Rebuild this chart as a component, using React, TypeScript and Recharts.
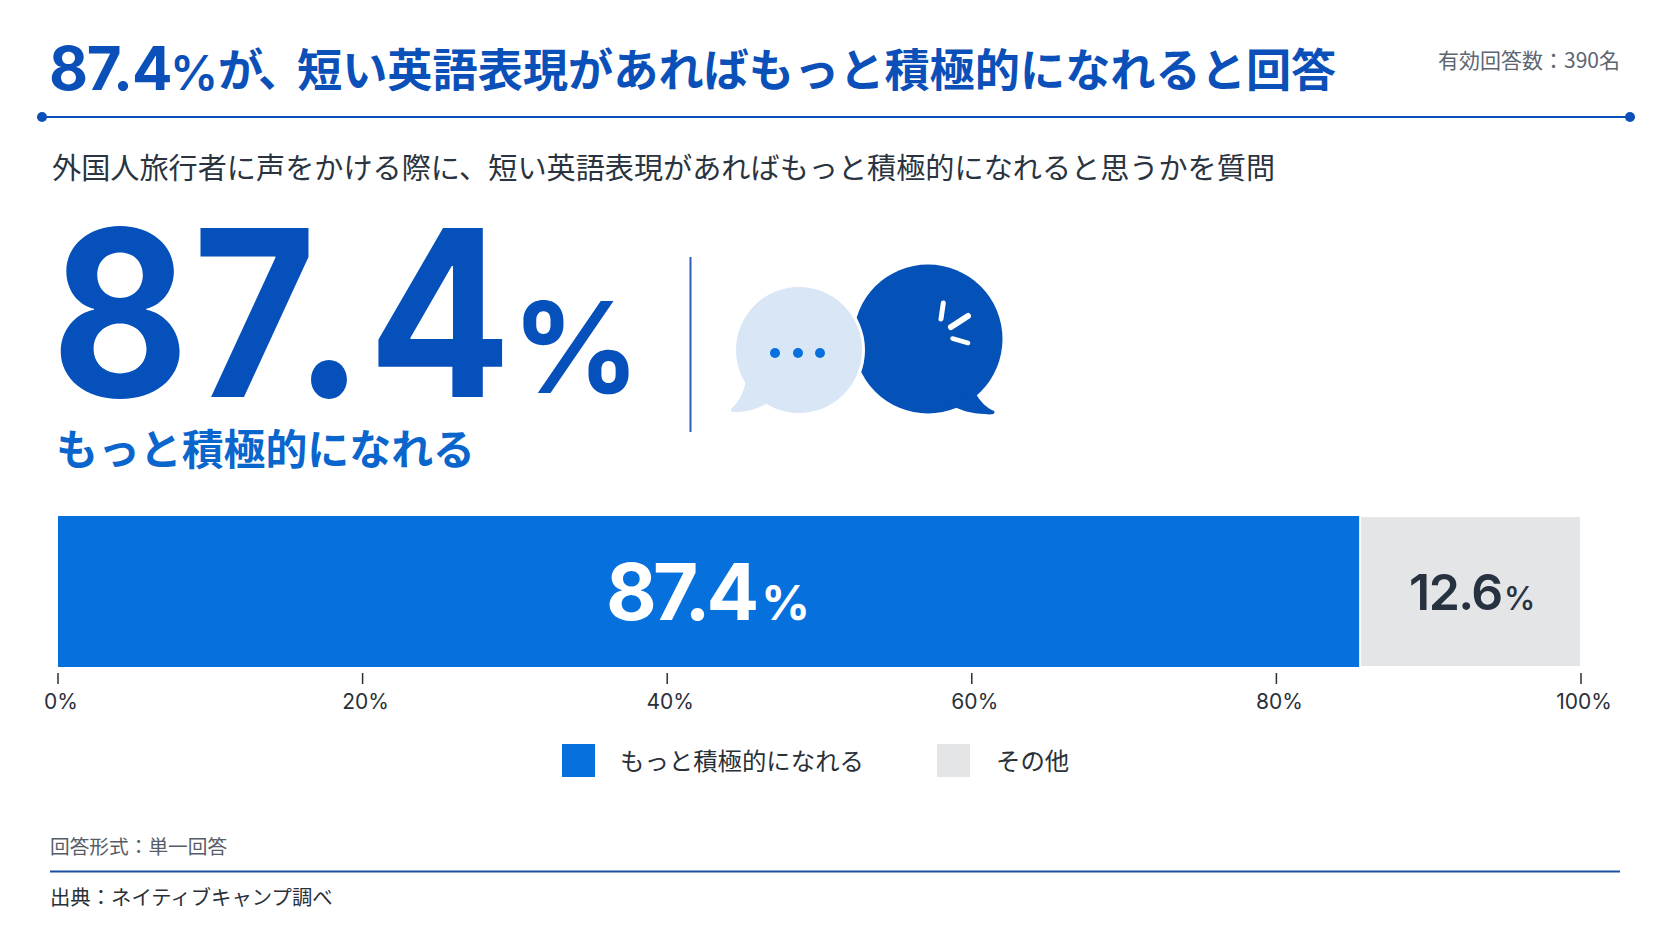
import React from "react";
import { BarChart, Bar, XAxis, YAxis, Legend, LabelList } from "recharts";

const categories = ["回答"];
// 文字は 87.4 / 12.6 だが、元画像の棒は 85.5 / 14.5 の長さで描かれている
const drawnMore = [85.5];
const drawnOther = [14.5];
const printedMore = "87.4";
const printedOther = "12.6";
const axisTicks = [0, 20, 40, 60, 80, 100];
const legendLabels = ["もっと積極的になれる", "その他"];

const chartData = categories.map((name, i) => ({
  name,
  more: drawnMore[i],
  other: drawnOther[i],
}));

const BLUE = "#0670dd";
const GRAY = "#e3e5e7";
const NAVY = "#0a50b8";
const LATIN = "Inter, 'Noto Sans CJK JP', sans-serif";
const CJK = "'Noto Sans CJK JP', sans-serif";

function AxisTick({ x, y, payload }: any) {
  return (
    <g>
      <line x1={x} x2={x} y1={y + 6} y2={y + 17} stroke="#2a3038" strokeWidth={1.5} />
      <text x={x + 3} y={y + 42} textAnchor="middle" fontSize={21} fontFamily={LATIN} fill="#2a3038">
        {payload.value}%
      </text>
    </g>
  );
}

function MoreLabel({ x, y, width, height }: any) {
  return (
    <text x={x + width / 2 - 3} y={y + height / 2 + 28} textAnchor="middle" fontFamily={LATIN} fontWeight={700} fill="#fff" letterSpacing={-4}>
      <tspan fontSize={78}>{printedMore}</tspan>
      <tspan fontSize={48} dx={6}>%</tspan>
    </text>
  );
}

function OtherLabel({ x, y, width, height }: any) {
  return (
    <text x={x + width / 2 + 1} y={y + height / 2 + 18} textAnchor="middle" fontFamily={LATIN} fontWeight={600} fill="#26323f" letterSpacing={-1.5}>
      <tspan fontSize={50}>{printedOther}</tspan>
      <tspan fontSize={32} fontWeight={500} dx={2}>%</tspan>
    </text>
  );
}

function LegendRow({ payload }: any) {
  return (
    <div style={{ position: "relative", height: 34, width: 1672 }}>
      {(payload || []).map((item: any, i: number) => (
        <div
          key={item.value}
          style={{ position: "absolute", left: i === 0 ? 562 : 937, top: 0, display: "flex", alignItems: "center" }}
        >
          <div style={{ width: 33, height: 33, background: item.color }} />
          <span style={{ marginLeft: i === 0 ? 25 : 26, marginTop: -2, fontSize: 24.4, fontFamily: CJK, color: "#2a3038", whiteSpace: "nowrap" }}>
            {item.value}
          </span>
        </div>
      ))}
    </div>
  );
}

function Bubbles() {
  return (
    <g>
      <circle cx={928} cy={339} r={74.5} fill="#0452b8" />
      <path d="M975 392 C980 402 987 408 994 411 C996 414 992 415 985 414 C972 414 958 410 948 403 Z" fill="#0452b8" />
      <line x1={943.3} y1={303} x2={941} y2={319} stroke="#fff" strokeWidth={5} strokeLinecap="round" />
      <line x1={968} y1={316} x2={951} y2={327} stroke="#fff" strokeWidth={6} strokeLinecap="round" />
      <line x1={952.5} y1={338.5} x2={968} y2={343} stroke="#fff" strokeWidth={4.5} strokeLinecap="round" />
      <circle cx={799} cy={350} r={66} fill="#fff" />
      <circle cx={799} cy={350} r={63} fill="#d8e6f6" />
      <path d="M746 380 C744 393 738 403 731 409 C730 412 733 412 738 412 C749 412 759 408 768 403 Z" fill="#d8e6f6" />
      <circle cx={775} cy={353} r={5} fill={BLUE} />
      <circle cx={798} cy={353} r={5} fill={BLUE} />
      <circle cx={820} cy={353} r={5} fill={BLUE} />
    </g>
  );
}

function Overlay() {
  return (
    <svg width={1672} height={941} style={{ position: "absolute", left: 0, top: 0, pointerEvents: "none" }}>
      {/* header */}
      <text x={49} y={90} fontFamily={LATIN} fontWeight={700} fill={NAVY}>
        <tspan fontSize={60} letterSpacing={-1.2}>87.4</tspan>
        <tspan x={170} fontSize={48} fontWeight={600} letterSpacing={-2}>%</tspan>
        <tspan x={218} dy={-3} fontSize={45.2} fontFamily={CJK}>が</tspan>
        <tspan x={258} fontSize={45.2} fontFamily={CJK}>、</tspan>
        <tspan x={297} fontSize={45.2} fontFamily={CJK}>短い英語表現があればもっと積極的になれると回答</tspan>
      </text>
      <text x={1438} y={68} fontFamily={CJK} fontSize={21} fill="#5c6672">有効回答数：390名</text>
      <line x1={42} x2={1630} y1={117} y2={117} stroke={NAVY} strokeWidth={2} />
      <circle cx={42} cy={117} r={5} fill={NAVY} />
      <circle cx={1630} cy={117} r={5} fill={NAVY} />
      <text x={52} y={179} fontFamily={CJK} fontSize={29.15} fill="#2a3440">
        外国人旅行者に声をかける際に、短い英語表現があればもっと積極的になれると思うかを質問
      </text>

      {/* big number: Inter は幅が広いので横だけ縮める */}
      <text
        transform="translate(51 397) scale(0.915 1)"
        fontFamily={LATIN}
        fontWeight={700}
        fontSize={232}
        fill="#0650bb"
        letterSpacing={4}
      >
        87.4
      </text>
      <text x={512} y={393} fontFamily={LATIN} fontWeight={700} fontSize={126} fill="#0650bb">%</text>
      <text x={56} y={465} fontFamily={CJK} fontWeight={700} fontSize={41.9} fill="#0a66cc">もっと積極的になれる</text>
      <line x1={690.5} x2={690.5} y1={257} y2={432} stroke="#2f5fb5" strokeWidth={2} />
      <Bubbles />

      {/* footer */}
      <text x={50} y={854} fontFamily={CJK} fontSize={19.7} fill="#555e68">回答形式：単一回答</text>
      <line x1={50} x2={1620} y1={871.5} y2={871.5} stroke="#1a4fa5" strokeWidth={2} />
      <text x={50} y={905} fontFamily={CJK} fontSize={20.35} fill="#2a3038">出典：ネイティブキャンプ調べ</text>
    </svg>
  );
}

export default function App() {
  return (
    <div style={{ position: "absolute", left: 0, top: 0, width: 1672, height: 941, background: "#fff", overflow: "hidden" }}>
      <BarChart
        width={1672}
        height={941}
        data={chartData}
        layout="vertical"
        barCategoryGap={0}
        margin={{ top: 516, right: 91, bottom: 190, left: 58 }}
      >
        <XAxis
          type="number"
          domain={[0, 100]}
          ticks={axisTicks}
          tick={<AxisTick />}
          tickLine={false}
          axisLine={false}
          tickSize={0}
          tickMargin={0}
          height={50}
          interval={0}
        />
        <YAxis type="category" dataKey="name" hide />
        <Legend
          content={<LegendRow />}
          itemSorter={null}
          wrapperStyle={{ position: "absolute", left: 0, top: 744, width: 1672, bottom: "auto" }}
        />
        <Bar dataKey="more" name={legendLabels[0]} stackId="a" fill={BLUE} isAnimationActive={false}>
          <LabelList dataKey="more" content={<MoreLabel />} />
        </Bar>
        <Bar dataKey="other" name={legendLabels[1]} stackId="a" fill={GRAY} stroke="#fff" strokeWidth={2} isAnimationActive={false}>
          <LabelList dataKey="other" content={<OtherLabel />} />
        </Bar>
      </BarChart>
      <Overlay />
    </div>
  );
}
